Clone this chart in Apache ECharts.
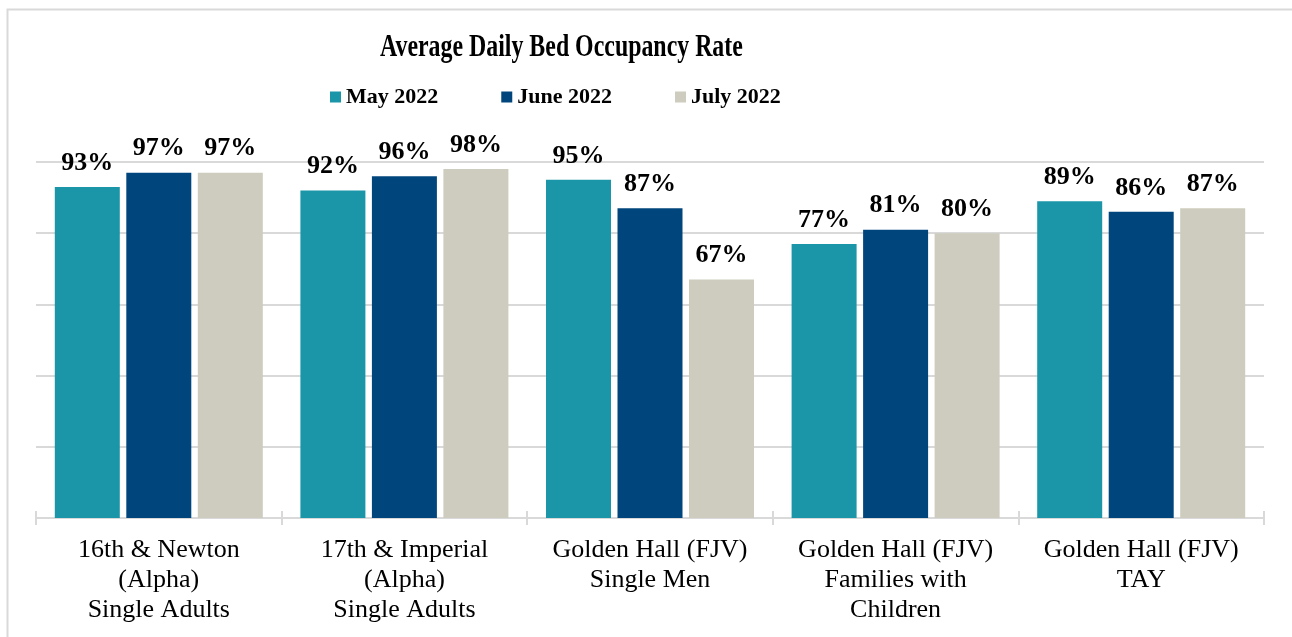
<!DOCTYPE html>
<html><head><meta charset="utf-8">
<script src="https://cdn.jsdelivr.net/npm/echarts@6/dist/echarts.min.js"></script>
<style>html,body{margin:0;padding:0;background:#fff}#c{width:1292px;height:637px}</style>
</head><body><div id="c"></div>
<script>
const titleText = 'Average Daily Bed Occupancy Rate';
const categories = ["16th & Newton\n(Alpha)\nSingle Adults", "17th & Imperial\n(Alpha)\nSingle Adults", "Golden Hall (FJV)\nSingle Men", "Golden Hall (FJV)\nFamilies with\nChildren", "Golden Hall (FJV)\nTAY"];
const seriesNames = ["May 2022", "June 2022", "July 2022"];
const may2022 = [93, 92, 95, 77, 89];
const june2022 = [97, 96, 87, 81, 86];
const july2022 = [97, 98, 67, 80, 87];
const colors = ["#1b96a8", "#00467c", "#cdccbe"];
const font = "'Liberation Serif','Times New Roman',serif";
const chart = echarts.init(document.getElementById('c'));
const mk = (name, data, color) => ({
  name, type: 'bar', data, barWidth: 65, barGap: '10%',
  itemStyle: { color },
  label: { show: true, position: 'top', distance: 11, formatter: '{c}%', fontFamily: font, fontWeight: 'bold', fontSize: 26, color: '#000' }
});
chart.setOption({
  animation: false,
  legend: { top: 81, left: 325, itemWidth: 11, itemHeight: 11, itemGap: 63, icon: 'rect',
    textStyle: { fontFamily: font, fontWeight: 'bold', fontSize: 22, color: '#000' } },
  graphic: [
    { type: 'rect', shape: { x: 7.5, y: 9.5, width: 1400, height: 700 }, style: { fill: 'none', stroke: '#d9d9d9', lineWidth: 2 }, silent: true },
    { type: 'text', x: 380, y: 48, scaleX: 0.77, style: { text: titleText, font: "bold 31px 'Liberation Serif','Times New Roman',serif", fill: '#000', verticalAlign: 'middle', align: 'left' }, silent: true }
  ],
  grid: { left: 36, right: 28, top: 162, bottom: 119 },
  xAxis: [{ type: 'category', data: categories,
    axisLine: { lineStyle: { color: '#d9d9d9', width: 2 } },
    axisTick: { show: true, length: 7, lineStyle: { color: '#d9d9d9', width: 2 } },
    axisLabel: { interval: 0, hideOverlap: false, fontFamily: font, fontSize: 26, color: '#000', lineHeight: 30, margin: 17 } },
    { type: 'category', data: categories, position: 'bottom', offset: -7,
    axisLine: { show: false }, axisLabel: { show: false },
    axisTick: { show: true, length: 7, lineStyle: { color: '#d9d9d9', width: 2 } } }],
  yAxis: { type: 'value', min: 0, max: 100, interval: 20, axisLabel: { show: false }, axisLine: { show: false }, axisTick: { show: false },
    splitLine: { lineStyle: { color: '#d9d9d9', width: 2 } } },
  series: [mk(seriesNames[0], may2022, colors[0]), mk(seriesNames[1], june2022, colors[1]), mk(seriesNames[2], july2022, colors[2])]
});
</script></body></html>
